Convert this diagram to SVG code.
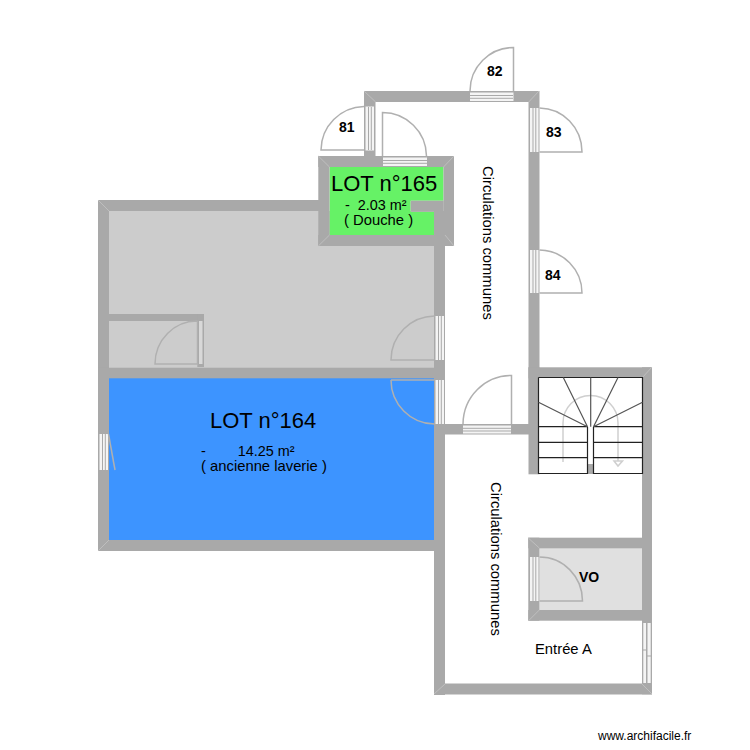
<svg xmlns="http://www.w3.org/2000/svg" width="750" height="750" viewBox="0 0 750 750">
<style>
text{font-family:"Liberation Sans",Arial,sans-serif;fill:#000}
.w{fill:#a9a9a9}
.d{fill:none;stroke:#b0b0b0;stroke-width:1.5}
.t{fill:#f4f4f4}
.l{stroke:#a9a9a9;stroke-width:1;fill:none}
.s{fill:none;stroke:#222;stroke-width:1.2}
.b{font-weight:bold;font-size:14px}
.n{font-size:14.8px}
.seam{stroke:#c4c4c4;stroke-width:.8;fill:none}
</style>
<rect width="750" height="750" fill="#fff"/>
<g id="rooms">
<rect x="109" y="211" width="325" height="156" fill="#cccccc"/>
<rect x="109" y="378" width="325" height="162" fill="#3d94ff"/>
<path d="M329.500 167H443.500V200.700H410.700V211.700H434V235H329.500Z" fill="#66f266"/>
<rect x="539" y="548" width="103" height="62" fill="#e0e0e0"/>
</g>
<g id="walls" class="w">
<rect x="364" y="91" width="175" height="11"/>
<rect x="364" y="91" width="11.500" height="65"/>
<rect x="528.500" y="91" width="11" height="343"/>
<rect x="318.300" y="156" width="135.700" height="11"/>
<rect x="318.300" y="156" width="11.200" height="90"/>
<rect x="443.500" y="156" width="10.500" height="90"/>
<rect x="318.300" y="235" width="135.700" height="11"/>
<rect x="410.700" y="200.700" width="33" height="11"/>
<rect x="434" y="211" width="20" height="35"/>
<rect x="98" y="200" width="231" height="11"/>
<rect x="98" y="200" width="11" height="351"/>
<rect x="98" y="367.300" width="347" height="11"/>
<rect x="98" y="540" width="347" height="11"/>
<rect x="434" y="235" width="11" height="460"/>
<rect x="109" y="314" width="95" height="7"/>
<rect x="197.300" y="314" width="6.700" height="53"/>
<rect x="445" y="424" width="84" height="10.500"/>
<rect x="528.500" y="367.300" width="123.500" height="11"/>
<rect x="528.500" y="367.300" width="11" height="107"/>
<rect x="642" y="367.300" width="10" height="327"/>
<rect x="434" y="683.500" width="218" height="11"/>
<rect x="528.300" y="537.700" width="113.700" height="10.600"/>
<rect x="528.300" y="610" width="113.700" height="10.700"/>
<rect x="528.300" y="537.700" width="11" height="83"/>
</g>
<g id="connectors">
<path class="seam" d="M364 91L375.700 102M539 91L528.700 102M318.300 156L329.500 167M454 156L443.500 167M318.300 246L329.500 235M454 246L445 235M98 200L109 211M98 551L109 540M528.300 538L539.300 548M528.300 621L539.300 610M652 367L642 378M652 694L642 684M434 694L445 684"/>
</g>
<g id="door-81"><rect class="t" x="365.500" y="106.500" width="8.500" height="44"/><path class="l" d="M368.500 107V150M371.300 107V150"/><path class="d" d="M364 106.500A44 44 0 0 0 321 150H364"/></g>
<g id="door-81b"><rect class="t" x="383" y="157.500" width="44" height="8.500"/><path class="l" d="M383 160.500H427M383 163.300H427"/><path class="d" d="M382.500 156V112.500A44 44 0 0 1 426.500 156"/></g>
<g id="door-82"><rect class="t" x="470" y="92.500" width="43.500" height="8.500"/><path class="l" d="M470 95.500H513M470 98.300H513"/><path class="d" d="M470 91A43.500 43.500 0 0 1 513.500 47.500V91"/></g>
<g id="door-83"><rect class="t" x="530" y="108" width="8.500" height="44"/><path class="l" d="M533 108V152M535.800 108V152"/><path class="d" d="M539.500 108A43 44 0 0 1 582 152H539.500"/></g>
<g id="door-84"><rect class="t" x="530" y="250" width="8.500" height="43"/><path class="l" d="M533 250V293M535.800 250V293"/><path class="d" d="M539.500 250A43 43 0 0 1 582 293H539.500"/></g>
<g id="door-grey-right"><rect class="t" x="435.500" y="316" width="8.500" height="44"/><path class="l" d="M438.500 316V360M441.300 316V360"/><path class="d" d="M434.500 316A44 44 0 0 0 391 360H434.500"/></g>
<g id="door-blue"><rect class="t" x="435.500" y="380" width="8.500" height="44"/><path class="l" d="M438.500 380V424M441.300 380V424"/><path class="d" d="M391 380H434.500"/><path class="d" d="M391 380A44 44 0 0 0 434.500 424"/></g>
<g id="door-corridor"><rect class="t" x="463" y="425.500" width="48" height="8"/><path class="l" d="M463 428.300H511M463 431H511"/><path class="d" d="M463 424A48 49 0 0 1 511.500 375.500V424"/></g>
<g id="door-closet"><rect x="199" y="321" width="3.500" height="43" fill="#d8d8d8"/><path class="d" d="M197.500 321A42 43 0 0 0 155 364H197.500V321"/></g>
<g id="door-left"><rect class="t" x="99.500" y="434" width="8.500" height="36"/><path class="l" d="M102.500 434V470M105.300 434V470"/><path class="d" d="M108.500 434L115 470"/></g>
<g id="door-vo"><rect class="t" x="530" y="557" width="8.500" height="44"/><path class="l" d="M533 557V601M535.800 557V601"/><path class="d" d="M539.500 557A43 44 0 0 1 582.500 601H539.500"/></g>
<g id="window-entree"><rect class="t" x="643.300" y="623" width="2.700" height="60"/><rect class="t" x="647.500" y="623" width="3.200" height="60"/><path class="l" d="M643 650H646.500M647 656H651"/></g>
<g id="stairs">
<rect x="539" y="378" width="103.500" height="96" fill="#fff"/>
<rect x="587.500" y="464" width="6" height="10" fill="#a9a9a9"/>
<path d="M563 462V423A27.500 27.500 0 0 1 618 423V461M614 461H622.500L618 466Z" fill="none" stroke="#cfcfcf" stroke-width="1.500"/>
<path class="s" d="M538.500 377.500H642.500V473.500H593.500V426.700M587.500 426.700V473.500H538.500V377.500M538.500 426.700H587.500M593.500 426.700H642.500M538.500 442.300H587.500M593.500 442.300H642.500M538.500 457.700H587.500M593.500 457.700H642.500"/>
<path fill="none" stroke="#555" stroke-width="1.200" d="M587.500 426.700L563.300 377.500M587.500 426.700L538.500 402.300M590.700 377.500V426.700M593.500 426.700L618 377.500M593.500 426.700L642.500 402.300"/>
</g>
<g id="labels">
<text class="b" x="487" y="76">82</text>
<text class="b" x="339" y="132">81</text>
<text class="b" x="546" y="137">83</text>
<text class="b" x="545" y="280">84</text>
<text class="b" x="579" y="582">VO</text>
<text x="331" y="191" font-size="22">LOT n°165</text>
<text x="345" y="210" font-size="14.400" xml:space="preserve">-  2.03 m²</text>
<text class="n" x="344" y="225">( Douche )</text>
<text x="210" y="428" font-size="22">LOT n°164</text>
<text x="201" y="456" font-size="14.400" xml:space="preserve">-        14.25 m²</text>
<text class="n" x="201" y="471">( ancienne laverie )</text>
<text class="n" transform="translate(483 166) rotate(90)">Circulations communes</text>
<text class="n" transform="translate(491 482) rotate(90)">Circulations communes</text>
<text class="n" x="535" y="654">Entrée A</text>
<text x="598" y="740" font-size="12">www.archifacile.fr</text>
</g>
</svg>
